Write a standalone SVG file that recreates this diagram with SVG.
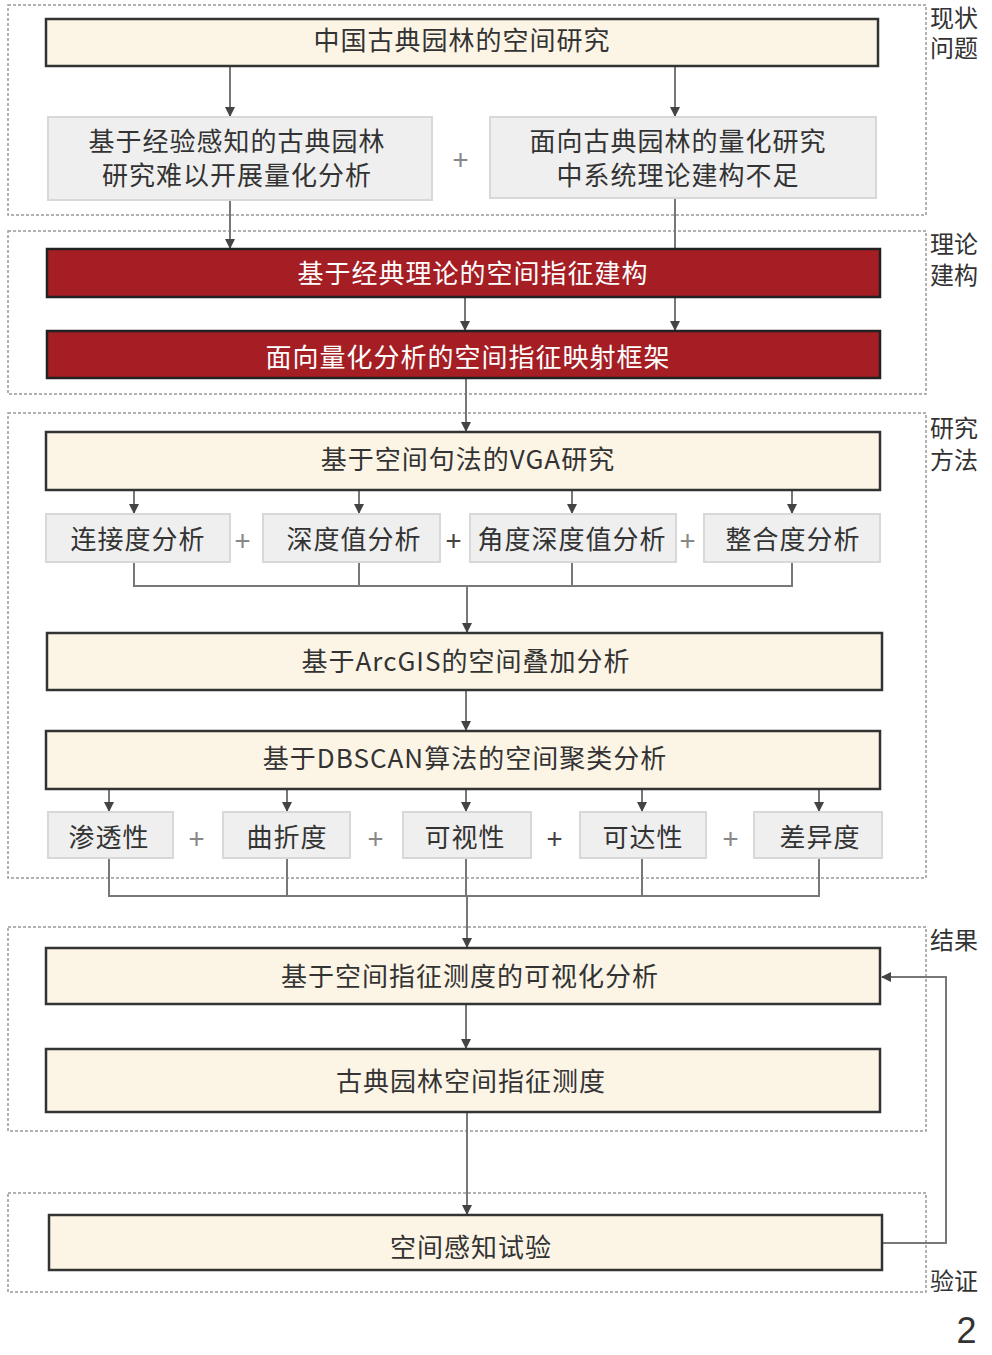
<svg xmlns="http://www.w3.org/2000/svg" width="992" height="1355" viewBox="0 0 992 1355">
<defs>
<marker id="ah" viewBox="0 0 10 10" refX="9" refY="5" markerWidth="5" markerHeight="5" orient="auto"><path d="M0,0L10,5L0,10z" fill="#444"/></marker>
<style>
.sec{fill:none;stroke:#999;stroke-width:1.5;stroke-dasharray:3,2}
.cr{fill:#fcf5e6;stroke:#333;stroke-width:2.5}
.gr{fill:#efefef;stroke:#d8d8d8;stroke-width:2}
.rd{fill:#a51e24;stroke:#222;stroke-width:2.5}
text{font-family:"Noto Sans CJK SC","Liberation Sans",sans-serif;font-size:26px;letter-spacing:1px;fill:#333;text-anchor:middle;dominant-baseline:central}
.w{fill:#fff}
.side{text-anchor:start;font-size:24px;letter-spacing:0}
.pl{font-size:28px;fill:#888}
.c{fill:none;stroke:#777;stroke-width:2}
.ca{fill:none;stroke:#777;stroke-width:2;marker-end:url(#ah)}
</style>
</defs>
<rect width="992" height="1355" fill="#fff"/>
<g id="sections">
<rect class="sec" x="8" y="5" width="918" height="210"/>
<rect class="sec" x="8" y="231" width="918" height="163"/>
<rect class="sec" x="8" y="413" width="918" height="465"/>
<rect class="sec" x="8" y="927" width="918" height="204"/>
<rect class="sec" x="8" y="1193" width="918" height="99"/>
<text class="side" x="930" y="16">现状</text><text class="side" x="930" y="46">问题</text>
<text class="side" x="930" y="242">理论</text><text class="side" x="930" y="273">建构</text>
<text class="side" x="930" y="426">研究</text><text class="side" x="930" y="458">方法</text>
<text class="side" x="930" y="938">结果</text>
<text class="side" x="930" y="1279">验证</text>
<text x="967" y="1330" style="font-size:36px;font-family:'Liberation Sans',sans-serif">2</text>
</g>
<g id="connectors">
<path class="ca" d="M230,66V116"/><path class="ca" d="M675,66V116"/>
<path class="ca" d="M230,200V248"/><path class="ca" d="M675,198V330"/>
<path class="ca" d="M465,297V330"/>
<path class="ca" d="M466,378V431"/>
<path class="ca" d="M134,490V513"/><path class="ca" d="M359,490V513"/><path class="ca" d="M572,490V513"/><path class="ca" d="M792,490V513"/>
<path class="c" d="M134,562V586H792V562M359,562V586M572,562V586"/><path class="ca" d="M467,586V632"/>
<path class="ca" d="M466,690V730"/>
<path class="ca" d="M109,789V811"/><path class="ca" d="M287,789V811"/><path class="ca" d="M466,789V811"/><path class="ca" d="M642,789V811"/><path class="ca" d="M819,789V811"/>
<path class="c" d="M109,858V896H819V858M287,858V896M466,858V896M642,858V896"/><path class="ca" d="M467,896V947"/>
<path class="ca" d="M466,1004V1048"/>
<path class="ca" d="M467,1112V1214"/>
<path class="ca" d="M882,1243H946V977H882"/>
</g>
<g id="n1"><rect class="cr" x="46" y="19" width="832" height="47"/><text x="462" y="38">中国古典园林的空间研究</text></g>
<g id="n2"><rect class="gr" x="48" y="117" width="384" height="83"/><text x="237" y="139">基于经验感知的古典园林</text><text x="237" y="173">研究难以开展量化分析</text></g>
<g id="n3"><rect class="gr" x="490" y="117" width="386" height="81"/><text x="678" y="139">面向古典园林的量化研究</text><text x="678" y="173">中系统理论建构不足</text></g>
<text class="pl" x="461" y="158">+</text>
<g id="n4"><rect class="rd" x="47" y="249" width="833" height="48"/><text class="w" x="473" y="271">基于经典理论的空间指征建构</text></g>
<g id="n5"><rect class="rd" x="47" y="331" width="833" height="47"/><text class="w" x="468" y="355">面向量化分析的空间指征映射框架</text></g>
<g id="n6"><rect class="cr" x="46" y="432" width="834" height="58"/><text x="468" y="457">基于空间句法的VGA研究</text></g>
<g id="n7"><rect class="gr" x="46" y="514" width="184" height="48"/><text x="138" y="537">连接度分析</text></g>
<g id="n8"><rect class="gr" x="263" y="514" width="177" height="48"/><text x="354" y="537">深度值分析</text></g>
<g id="n9"><rect class="gr" x="470" y="514" width="206" height="48"/><text x="572" y="537">角度深度值分析</text></g>
<g id="n10"><rect class="gr" x="704" y="514" width="176" height="48"/><text x="793" y="537">整合度分析</text></g>
<text class="pl" x="243" y="539">+</text><text class="pl" x="454" y="539" style="fill:#444">+</text><text class="pl" x="688" y="539">+</text>
<g id="n11"><rect class="cr" x="47" y="633" width="835" height="57"/><text x="466" y="659">基于ArcGIS的空间叠加分析</text></g>
<g id="n12"><rect class="cr" x="46" y="731" width="834" height="58"/><text x="465" y="756">基于DBSCAN算法的空间聚类分析</text></g>
<g id="n13"><rect class="gr" x="48" y="812" width="125" height="46"/><text x="109" y="835">渗透性</text></g>
<g id="n14"><rect class="gr" x="223" y="812" width="127" height="46"/><text x="287" y="835">曲折度</text></g>
<g id="n15"><rect class="gr" x="403" y="812" width="128" height="46"/><text x="465" y="835">可视性</text></g>
<g id="n16"><rect class="gr" x="580" y="812" width="126" height="46"/><text x="643" y="835">可达性</text></g>
<g id="n17"><rect class="gr" x="754" y="812" width="128" height="46"/><text x="820" y="835">差异度</text></g>
<text class="pl" x="197" y="837">+</text><text class="pl" x="376" y="837">+</text><text class="pl" x="555" y="837" style="fill:#444">+</text><text class="pl" x="731" y="837">+</text>
<g id="n18"><rect class="cr" x="46" y="948" width="834" height="56"/><text x="470" y="974">基于空间指征测度的可视化分析</text></g>
<g id="n19"><rect class="cr" x="46" y="1049" width="834" height="63"/><text x="471" y="1079">古典园林空间指征测度</text></g>
<g id="n20"><rect class="cr" x="49" y="1215" width="833" height="55"/><text x="471" y="1245">空间感知试验</text></g>
</svg>
